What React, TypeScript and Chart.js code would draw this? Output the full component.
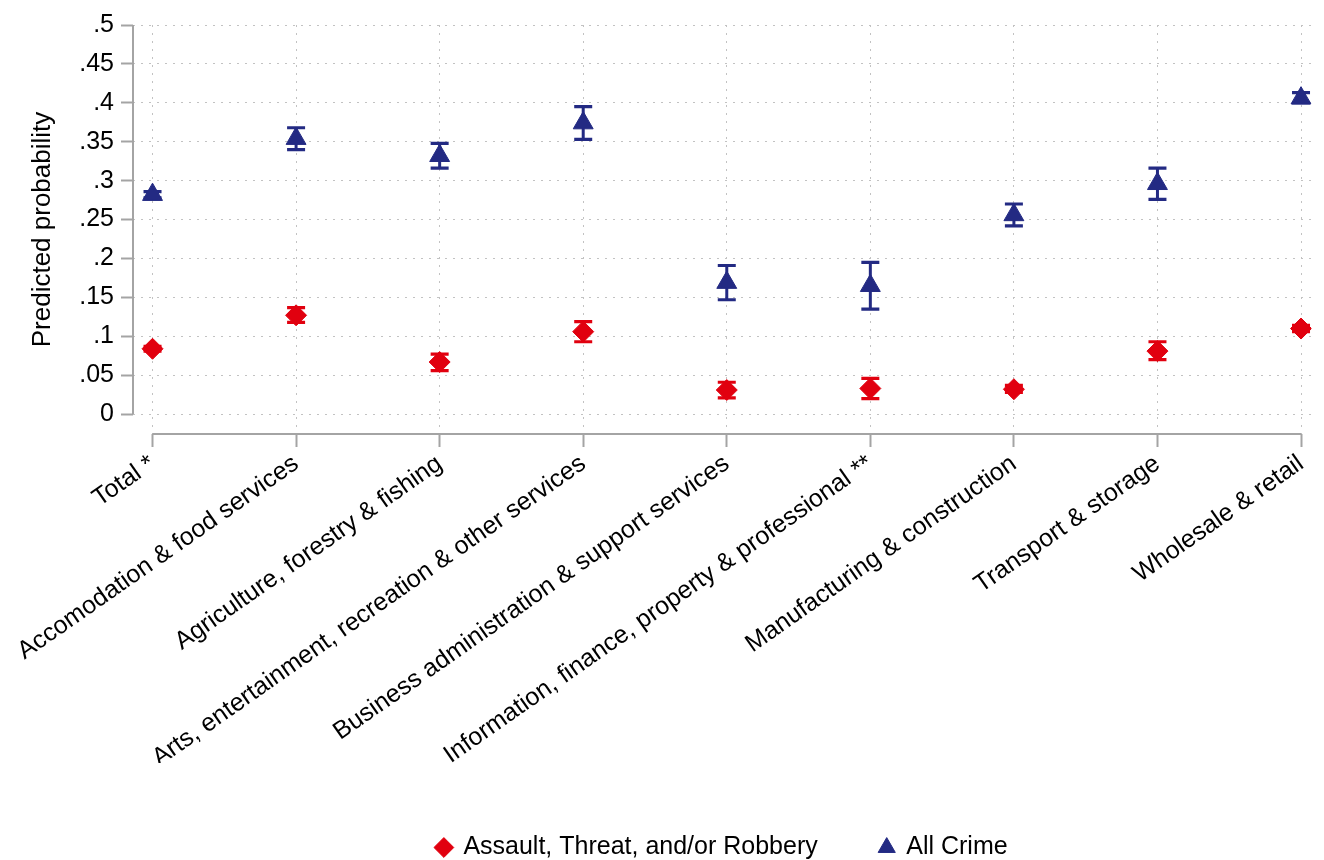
import { useEffect, useRef } from 'react';
import { Chart, registerables } from 'chart.js';

Chart.register(...registerables);

// Industry categories along the x axis
const industries = [
  'Total *',
  'Accomodation & food services',
  'Agriculture, forestry & fishing',
  'Arts, entertainment, recreation & other services',
  'Business administration & support services',
  'Information, finance, property & professional **',
  'Manufacturing & construction',
  'Transport & storage',
  'Wholesale & retail',
];

// Assault, Threat, and/or Robbery: predicted probability with 95% CI
const assaultProb = [0.084, 0.127, 0.067, 0.106, 0.031, 0.033, 0.032, 0.081, 0.110];
const assaultLow = [0.081, 0.118, 0.056, 0.093, 0.021, 0.020, 0.028, 0.070, 0.106];
const assaultHigh = [0.087, 0.137, 0.077, 0.119, 0.041, 0.046, 0.037, 0.093, 0.114];

// All Crime: predicted probability with 95% CI
const allCrimeProb = [0.282, 0.354, 0.332, 0.374, 0.169, 0.165, 0.256, 0.296, 0.406];
const allCrimeLow = [0.278, 0.340, 0.316, 0.353, 0.147, 0.135, 0.242, 0.276, 0.400];
const allCrimeHigh = [0.286, 0.368, 0.348, 0.395, 0.191, 0.195, 0.270, 0.316, 0.413];

const yTicks = [0, 0.05, 0.1, 0.15, 0.2, 0.25, 0.3, 0.35, 0.4, 0.45, 0.5];
const yTickLabels = ['0', '.05', '.1', '.15', '.2', '.25', '.3', '.35', '.4', '.45', '.5'];

const seriesLabels = ['Assault, Threat, and/or Robbery', 'All Crime'];

const RED = '#e1000f';
const NAVY = '#232a83';
const AXIS_GRAY = '#a4a4a4';
const GRID_GRAY = '#c2c2c2';
const FONT = '"Liberation Sans", Arial, sans-serif';

const intervals = [
  { low: assaultLow, high: assaultHigh, color: RED },
  { low: allCrimeLow, high: allCrimeHigh, color: NAVY },
];

// Capped confidence-interval bars, drawn underneath the markers
const errorBars = {
  id: 'errorBars',
  beforeDatasetsDraw(chart: any) {
    const { ctx, scales } = chart;
    const x = scales.x;
    const y = scales.y;
    intervals.forEach((iv, di) => {
      if (!chart.isDatasetVisible(di)) return;
      ctx.save();
      ctx.strokeStyle = iv.color;
      ctx.lineCap = 'butt';
      iv.low.forEach((lo: number, i: number) => {
        const px = x.getPixelForValue(i);
        const pLo = y.getPixelForValue(lo);
        const pHi = y.getPixelForValue(iv.high[i]);
        ctx.lineWidth = 3;
        ctx.beginPath();
        ctx.moveTo(px, pLo);
        ctx.lineTo(px, pHi);
        ctx.stroke();
        ctx.lineWidth = 3.2;
        ctx.beginPath();
        ctx.moveTo(px - 9, pLo);
        ctx.lineTo(px + 9, pLo);
        ctx.moveTo(px - 9, pHi);
        ctx.lineTo(px + 9, pHi);
        ctx.stroke();
      });
      ctx.restore();
    });
  },
};

// Axis lines that span only the data range (first to last category, 0 to .5)
const rangeAxes = {
  id: 'rangeAxes',
  beforeDatasetsDraw(chart: any) {
    const { ctx, scales, chartArea } = chart;
    const x = scales.x;
    const y = scales.y;
    ctx.save();
    ctx.strokeStyle = AXIS_GRAY;
    ctx.lineWidth = 2;
    ctx.beginPath();
    ctx.moveTo(chartArea.left, y.getPixelForValue(yTicks[0]));
    ctx.lineTo(chartArea.left, y.getPixelForValue(yTicks[yTicks.length - 1]));
    ctx.moveTo(x.getPixelForValue(0), chartArea.bottom);
    ctx.lineTo(x.getPixelForValue(industries.length - 1), chartArea.bottom);
    ctx.stroke();
    ctx.restore();
  },
};

// Centre the legend under the plot region
const legendPlacement = {
  id: 'legendPlacement',
  afterLayout(chart: any) {
    const lg = chart.legend;
    const ca = chart.chartArea;
    if (!lg || !ca) return;
    const dx = (ca.left + ca.right) / 2 - (lg.left + lg.right) / 2;
    lg.left += dx;
    lg.right += dx;
    lg.top += 10;
    lg.bottom += 10;
  },
};

export default function App() {
  const canvasRef = useRef<HTMLCanvasElement | null>(null);

  useEffect(() => {
    const canvas = canvasRef.current;
    if (!canvas) return;

    const chart = new Chart(canvas, {
      type: 'scatter',
      data: {
        datasets: [
          {
            label: seriesLabels[0],
            data: assaultProb.map((v, i) => ({ x: i, y: v })),
            pointStyle: 'rectRot',
            pointRadius: 10.5,
            pointBackgroundColor: RED,
            pointBorderColor: RED,
            pointBorderWidth: 1,
            backgroundColor: RED,
            borderColor: RED,
            showLine: false,
          },
          {
            label: seriesLabels[1],
            data: allCrimeProb.map((v, i) => ({ x: i, y: v })),
            pointStyle: 'triangle',
            pointRadius: 11.5,
            pointBackgroundColor: NAVY,
            pointBorderColor: NAVY,
            pointBorderWidth: 1,
            backgroundColor: NAVY,
            borderColor: NAVY,
            showLine: false,
          },
        ],
      },
      options: {
        responsive: false,
        animation: false,
        layout: { padding: { top: 25, left: 0, right: 0, bottom: 0 } },
        scales: {
          x: {
            type: 'linear',
            min: -0.136,
            max: 8.073,
            afterBuildTicks: (axis: any) => {
              axis.ticks = industries.map((_, i) => ({ value: i }));
            },
            afterFit: (scale: any) => {
              scale.height = 329;
              scale.paddingLeft = 0;
              scale.paddingRight = 0;
            },
            ticks: {
              autoSkip: false,
              minRotation: 35,
              maxRotation: 35,
              padding: 2,
              color: '#000',
              font: { family: FONT, size: 25 },
              callback: (value: any) => industries[Math.round(Number(value))] ?? '',
            },
            grid: {
              color: GRID_GRAY,
              lineWidth: 1,
              drawTicks: true,
              tickLength: 13,
              tickColor: AXIS_GRAY,
              tickWidth: 2,
              tickBorderDash: [],
            },
            border: { display: false, dash: [2, 6] },
          },
          y: {
            type: 'linear',
            min: -0.0255,
            max: 0.5,
            afterBuildTicks: (axis: any) => {
              axis.ticks = yTicks.map((v) => ({ value: v }));
            },
            afterFit: (scale: any) => {
              scale.width = 133;
              scale.paddingTop = 0;
              scale.paddingBottom = 0;
            },
            ticks: {
              padding: 7,
              color: '#000',
              font: { family: FONT, size: 25 },
              callback: (value: any) => {
                const idx = yTicks.findIndex((t) => Math.abs(t - Number(value)) < 1e-9);
                return idx >= 0 ? yTickLabels[idx] : '';
              },
            },
            grid: {
              color: GRID_GRAY,
              lineWidth: 1,
              drawTicks: true,
              tickLength: 12,
              tickColor: AXIS_GRAY,
              tickWidth: 2,
              tickBorderDash: [],
            },
            border: { display: false, dash: [2, 6] },
            title: {
              display: true,
              text: 'Predicted probability',
              color: '#000',
              font: { family: FONT, size: 26 },
              padding: { top: 27, bottom: 0 },
            },
          },
        },
        plugins: {
          legend: {
            display: true,
            position: 'bottom',
            labels: {
              usePointStyle: true,
              boxWidth: 14,
              boxHeight: 14,
              padding: 62,
              color: '#000',
              font: { family: FONT, size: 25 },
            },
          },
          tooltip: { enabled: false },
        },
      },
      plugins: [errorBars, rangeAxes, legendPlacement],
    } as any);

    return () => chart.destroy();
  }, []);

  return (
    <div style={{ position: 'fixed', left: 0, top: 0, width: 1324, height: 860, background: '#fff' }}>
      <canvas ref={canvasRef} width={1324} height={860} style={{ display: 'block' }} />
    </div>
  );
}
